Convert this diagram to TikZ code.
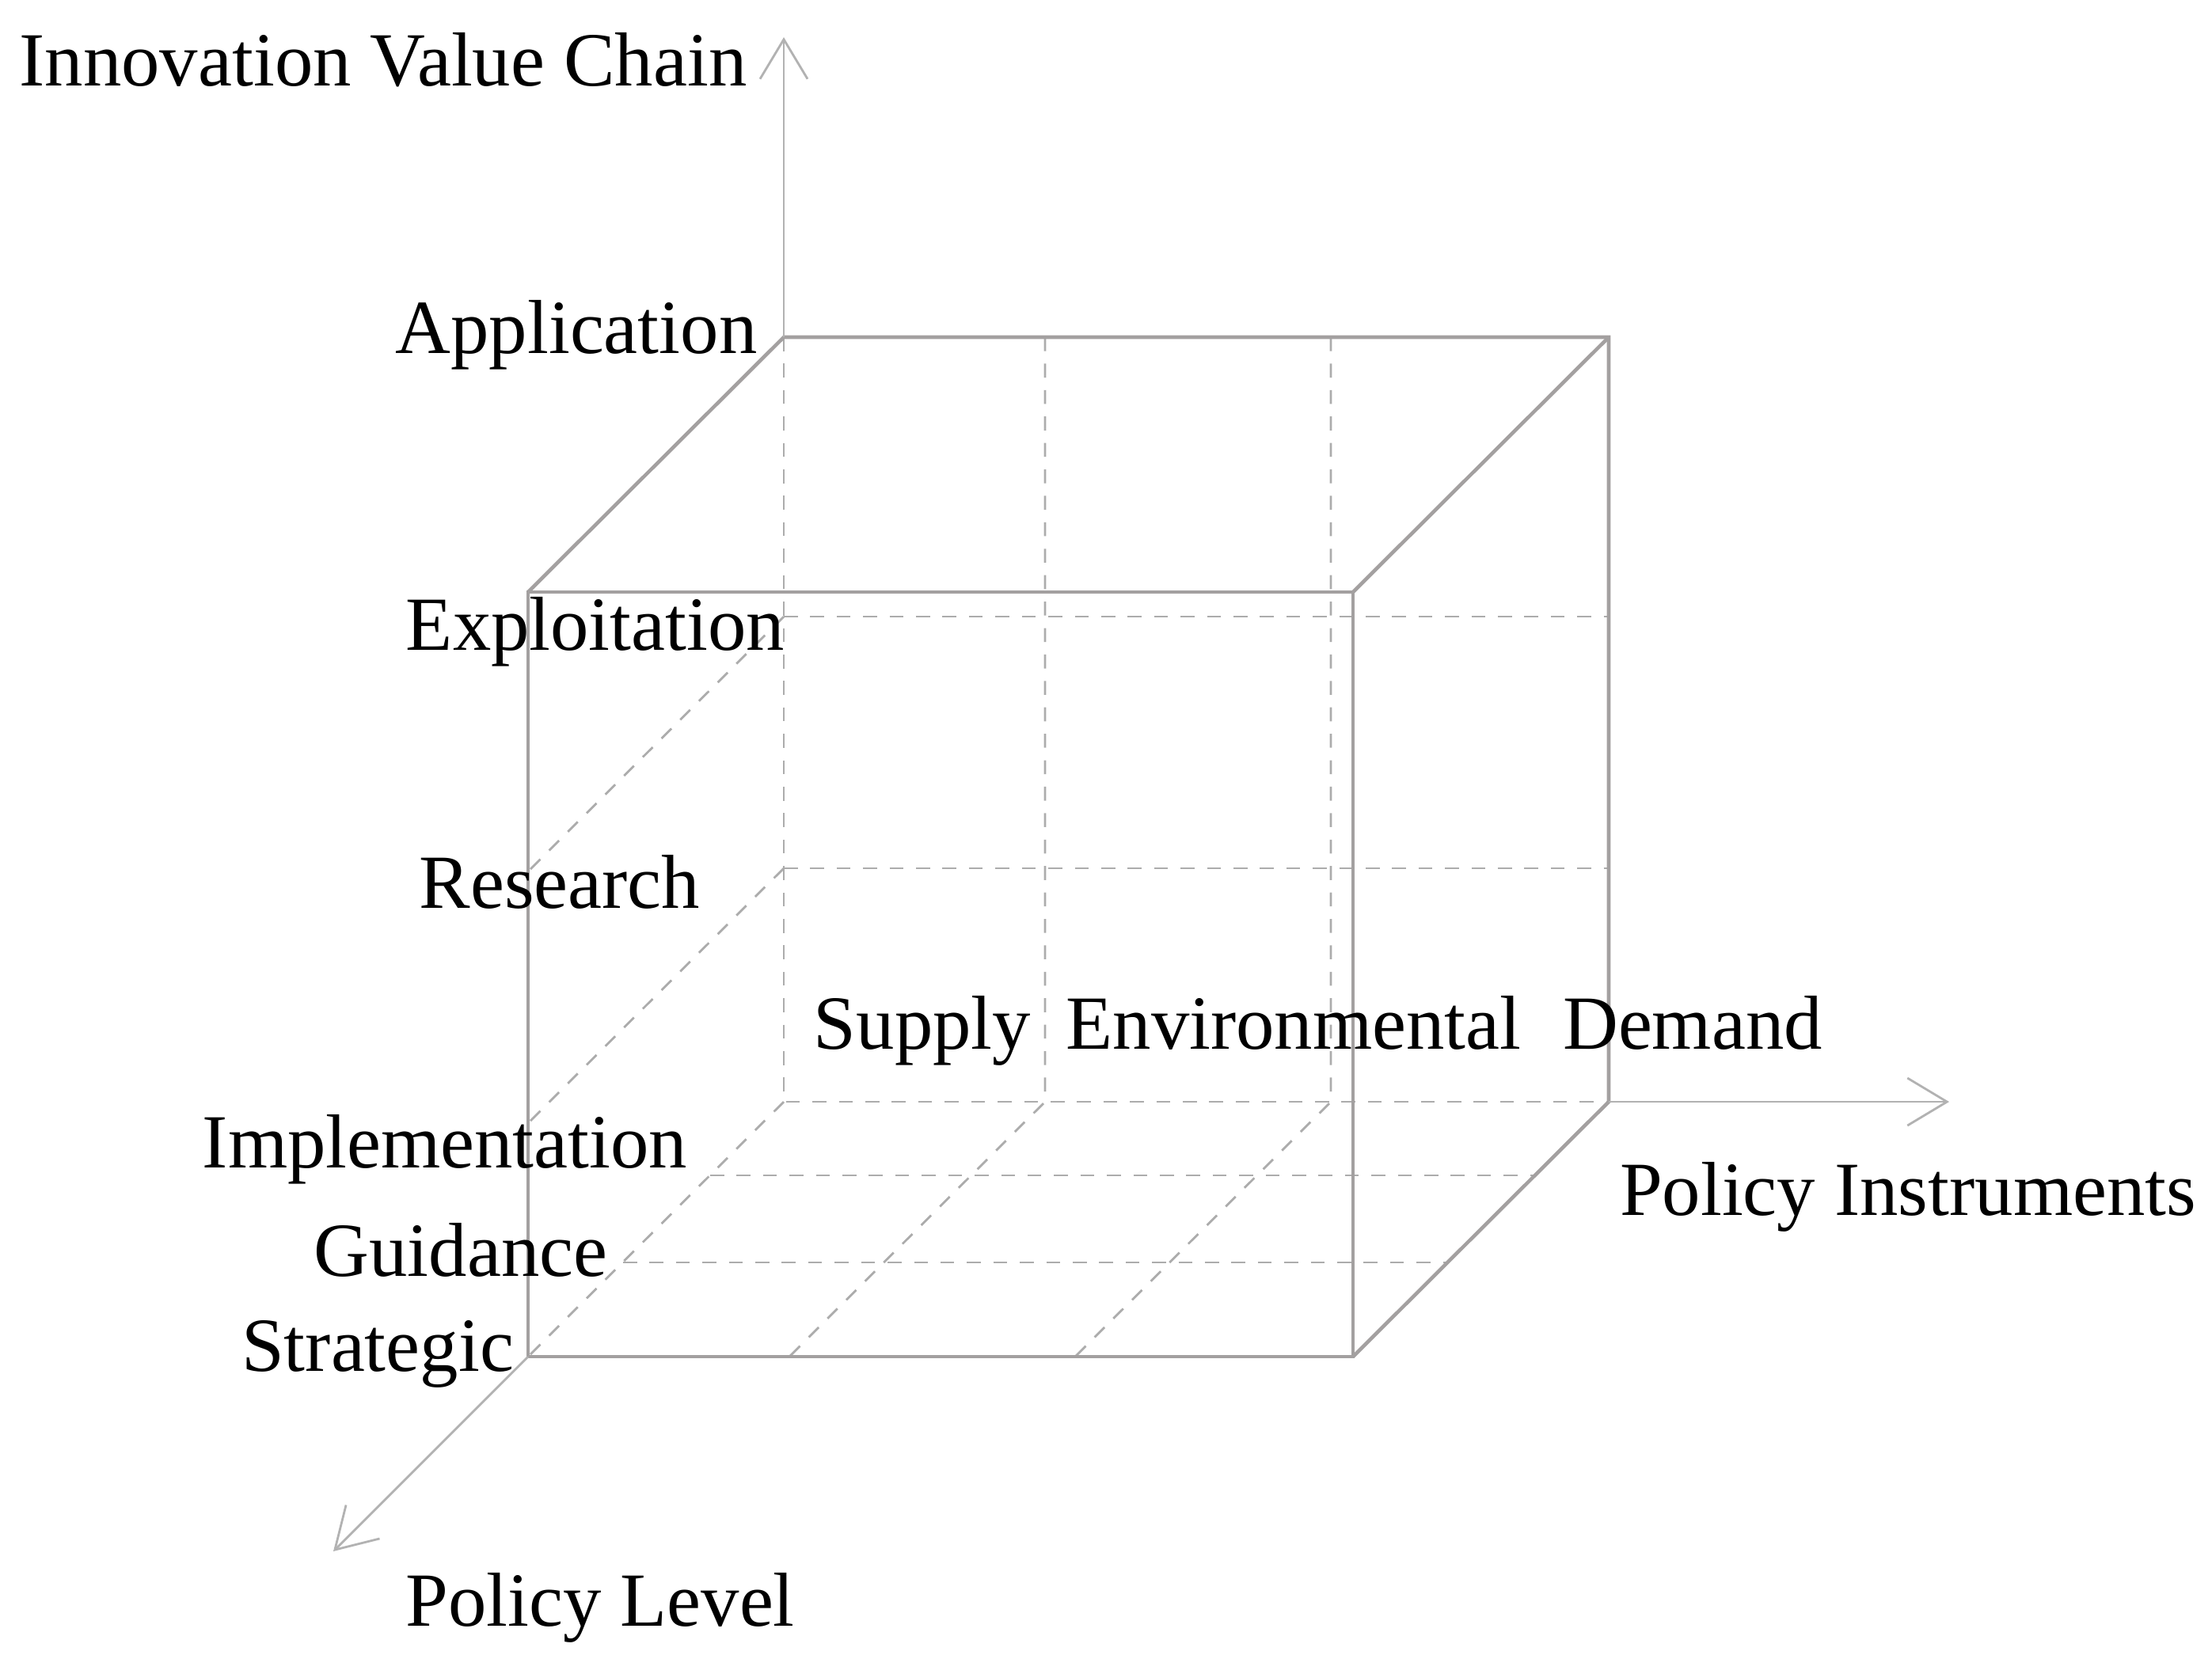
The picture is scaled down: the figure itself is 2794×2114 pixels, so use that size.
\documentclass[tikz,border=0pt]{standalone}
\usepackage{fontspec}
\setmainfont{Liberation Serif}
\usetikzlibrary{arrows.meta}
\definecolor{edgegray}{RGB}{163,160,160}
\definecolor{dashgray}{RGB}{172,172,172}
\definecolor{axisgray}{RGB}{178,178,178}
\begin{document}
\begin{tikzpicture}[x=0.01cm,y=-0.01cm,
  solidedge/.style={draw=edgegray,line width=1.3pt,line join=miter},
  hidden/.style={draw=dashgray,line width=0.8pt,dash pattern=on 5pt off 4.5pt},
  axisline/.style={draw=axisgray,line width=0.8pt,-{Straight Barb[length=5mm,width=6mm]}},
  lab/.style={inner sep=0pt,anchor=base,font=\fontsize{27.5}{33}\selectfont}]
\useasboundingbox (0,0) rectangle (2794,2114);
% corners
\coordinate (F1) at (667,748);
\coordinate (F2) at (1709,748);
\coordinate (F3) at (1709,1714);
\coordinate (F4) at (667,1714);
\coordinate (B1) at (990,426);
\coordinate (B2) at (2032,426);
\coordinate (B3) at (2032,1392);
\coordinate (B4) at (990,1392);
% level points
\coordinate (BE) at (990,779);
\coordinate (BE2) at (2032,779);
\coordinate (FE) at (667,1101);
\coordinate (BR) at (990,1097);
\coordinate (BR2) at (2032,1097);
\coordinate (FR) at (667,1419);
\coordinate (V1t) at (1320,426);
\coordinate (V1b) at (1320,1392);
\coordinate (V1f) at (997,1714);
\coordinate (V2t) at (1681,426);
\coordinate (V2b) at (1681,1392);
\coordinate (V2f) at (1358,1714);
\coordinate (H1l) at (897,1485);
\coordinate (H1r) at (1939,1485);
\coordinate (H2l) at (787,1595);
\coordinate (H2r) at (1829,1595);
% axis tips
\coordinate (AxUp) at (990,47);
\coordinate (AxRight) at (2462,1392);
\coordinate (AxDown) at (421,1960);
% hidden lines
\draw[hidden] (B1) -- (B4) -- (B3);
\draw[hidden] (B4) -- (F4);
\draw[hidden] (BE) -- (BE2);
\draw[hidden] (BR) -- (BR2);
\draw[hidden] (BE) -- (FE);
\draw[hidden] (BR) -- (FR);
\draw[hidden] (V1t) -- (V1b) -- (V1f);
\draw[hidden] (V2t) -- (V2b) -- (V2f);
\draw[hidden] (H1l) -- (H1r);
\draw[hidden] (H2l) -- (H2r);
% solid edges
\draw[solidedge] (F1) -- (F2) -- (F3) -- (F4) -- cycle;
\draw[solidedge] (F1) -- (B1) -- (B2) -- (B3) -- (F3);
\draw[solidedge] (F2) -- (B2);
% axes
\draw[axisline] (B1) -- (AxUp);
\draw[axisline] (B3) -- (AxRight);
\draw[axisline] (F4) -- (AxDown);
% labels
\node[lab] (ivc) at (484,108) {Innovation Value Chain};
\node[lab] (app) at (728,446) {Application};
\node[lab] (exp) at (752,821) {Exploitation};
\node[lab] (res) at (707,1147) {Research};
\node[lab] (sup) at (1165,1325) {Supply};
\node[lab] (env) at (1634,1325) {Environmental};
\node[lab] (dem) at (2138,1325) {Demand};
\node[lab] (imp) at (562,1475) {Implementation};
\node[lab] (gui) at (582,1612) {Guidance};
\node[lab] (str) at (477,1732) {Strategic};
\node[lab] (pi) at (2410,1535) {Policy Instruments};
\node[lab] (pl) at (758,2054) {Policy Level};
\end{tikzpicture}
\end{document}
